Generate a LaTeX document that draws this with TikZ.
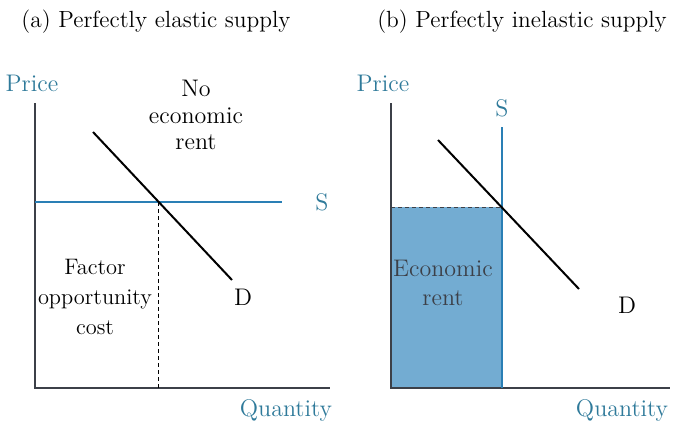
\documentclass[tikz,border=0pt]{standalone}
\usepackage{tikz}
\usetikzlibrary{positioning, calc}
\definecolor{AxisBlue}{RGB}{47,122,154}
\definecolor{SupplyBlue}{RGB}{42,127,181}
\definecolor{RentBlue}{RGB}{115,172,210}
\definecolor{AxisGray}{RGB}{60,64,72}
\tikzset{
  axis/.style={AxisGray, line width=0.8pt},
  demand/.style={black, line width=1pt},
  supply/.style={SupplyBlue, line width=1pt},
  guide/.style={black, line width=0.5pt, dash pattern=on 2pt off 1.5pt},
  txt/.style={font=\fontsize{12}{13.3}\selectfont, align=center, inner sep=0pt},
  axtxt/.style={txt, AxisBlue},
  title/.style={txt, font=\fontsize{11.7}{14}\selectfont}
}
\begin{document}
\begin{tikzpicture}[x=0.5pt, y=-0.5pt]
    \useasboundingbox (0,0) rectangle (674,423);
    % Titles
    \node [title] (titleA) at (156,22) {(a) Perfectly elastic supply};
    \node [title] (titleB) at (522,22) {(b) Perfectly inelastic supply};

    % (a) Perfectly elastic supply
    \coordinate (oA) at (35,388);
    \coordinate (yA) at (35,103);
    \coordinate (xA) at (330,388);
    \draw [axis] (yA) -- (oA) -- (xA);
    \node [axtxt] (priceA) at (32,83) {Price};
    \node [axtxt] (qtyA) at (286,410) {Quantity};
    \coordinate (sA1) at (35,202);
    \coordinate (sA2) at (282,202);
    \draw [supply] (sA1) -- (sA2);
    \node [axtxt] (labSA) at (322,202) {S};
    \coordinate (dA1) at (93,132);
    \coordinate (dA2) at (232,280);
    \draw [demand] (dA1) -- (dA2);
    \node [txt] (labDA) at (243,297) {D};
    \coordinate (eA) at (158,202);
    \coordinate (qA) at (158,388);
    \draw [guide] (eA) -- (qA);
    \node [txt] (norent) at (196,115) {No\\economic\\rent};
    \node [txt, font=\fontsize{11.2}{15}\selectfont] (factor) at (95,297) {Factor\\opportunity\\cost};

    % (b) Perfectly inelastic supply
    \coordinate (oB) at (391,388);
    \coordinate (yB) at (391,103);
    \coordinate (xB) at (670,388);
    \coordinate (eB) at (502,207);
    \coordinate (pB) at (391,207);
    \fill [RentBlue] (pB) rectangle (oB -| eB);
    \draw [guide, AxisGray] (pB) -- (eB);
    \draw [axis] (yB) -- (oB) -- (xB);
    \node [axtxt] (priceB) at (383,83) {Price};
    \node [axtxt] (qtyB) at (622,410) {Quantity};
    \coordinate (sB1) at (502,127);
    \coordinate (sB2) at (502,388);
    \draw [supply] (sB1) -- (sB2);
    \node [axtxt] (labSB) at (502,108) {S};
    \coordinate (dB1) at (438,140);
    \coordinate (dB2) at (579,289);
    \draw [demand] (dB1) -- (dB2);
    \node [txt] (labDB) at (627,305) {D};
    \node [txt, font=\fontsize{12}{14.5}\selectfont, AxisGray] (rent) at (443,283) {Economic\\rent};
\end{tikzpicture}
\end{document}
